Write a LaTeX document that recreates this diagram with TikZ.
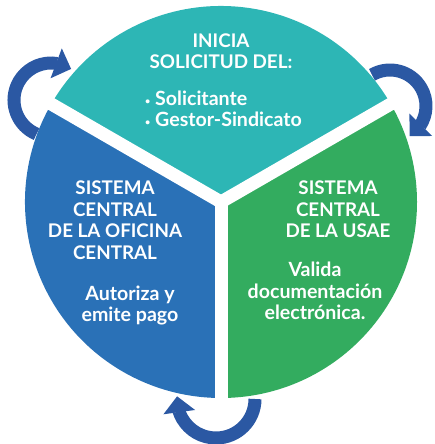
\documentclass[tikz,border=0pt]{standalone}
\usepackage{fontspec}
\setmainfont{Lato}
\usetikzlibrary{arrows.meta,bending}
\definecolor{tealpart}{HTML}{2DB6B5}
\definecolor{bluepart}{HTML}{2A71B7}
\definecolor{greenpart}{HTML}{33AC5F}
\definecolor{cyclearrow}{HTML}{2B58A3}

\begin{document}
\begin{tikzpicture}[x=1pt, y=1pt,
  gap/.style={white, line width=13pt},
  turn/.style={cyclearrow, line width=13pt, -{Triangle[width=31pt, length=16pt, flex]}},
  title/.style={text=white, font=\bfseries\fontsize{18.8}{21.5}\selectfont, align=center, inner sep=0pt},
  task/.style={title, font=\bfseries\fontsize{19.6}{21.3}\selectfont}]

		\useasboundingbox (0,0) rectangle (435,-444);
		\coordinate (c) at (221,-202);

		\fill[tealpart] (c) -- ++(30:196) arc[start angle=30, end angle=150, radius=196] -- cycle;
		\fill[bluepart] (c) -- ++(150:196) arc[start angle=150, end angle=270, radius=196] -- cycle;
		\fill[greenpart] (c) -- ++(270:196) arc[start angle=270, end angle=390, radius=196] -- cycle;
		\foreach \a in {30,150,270}
			\draw[gap] (c) -- ++(\a:205);

		\coordinate (t1) at (51,-100);
		\coordinate (t2) at (390,-106);
		\coordinate (t3) at (216,-399);
		\draw[turn] (t1) ++(247:37) arc[start angle=247, end angle=57, radius=37];
		\draw[turn] (t2) ++(120:36) arc[start angle=120, end angle=-57, radius=36];
		\draw[turn] (t3) ++(0:39) arc[start angle=0, end angle=-184, radius=39];

		\node[title] (inicia) at (221,-51) {INICIA\\SOLICITUD DEL:};
		\node[task, align=left, anchor=west] (actores) at (145,-108.5) {\raisebox{1pt}{\small•} Solicitante\\\raisebox{1pt}{\small•} Gestor-Sindicato};
		\node[title] (oficina) at (115,-220) {SISTEMA\\CENTRAL\\DE LA OFICINA\\CENTRAL};
		\node[task] (pago) at (130,-305.5) {Autoriza y\\emite pago};
		\node[title] (usae) at (338,-209.5) {SISTEMA\\CENTRAL\\DE LA USAE};
		\node[task] (valida) at (315,-291) {Valida\\documentación\\electrónica.};

		\end{tikzpicture}
\end{document}
